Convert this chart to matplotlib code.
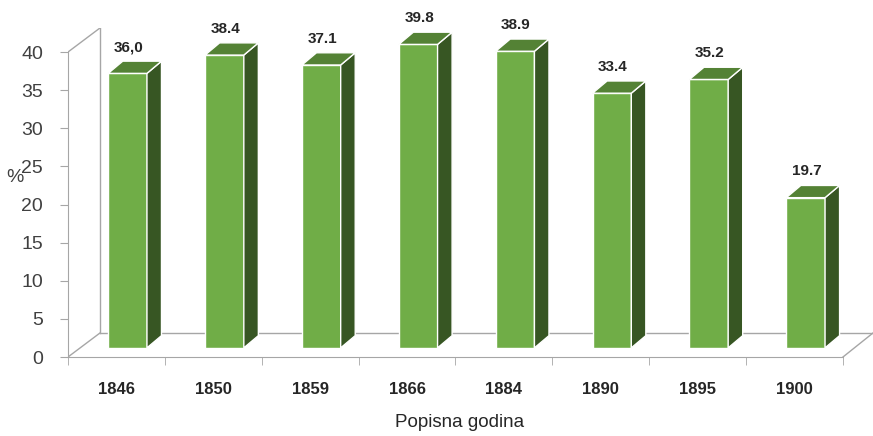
import matplotlib.pyplot as plt
from matplotlib.patches import Polygon

# Podaci
godine = ['1846', '1850', '1859', '1866', '1884', '1890', '1895', '1900']
vrijednosti = [36.0, 38.4, 37.1, 39.8, 38.9, 33.4, 35.2, 19.7]
oznake = ['36,0', '38.4', '37.1', '39.8', '38.9', '33.4', '35.2', '19.7']

# 3D izgled (u jedinicama podataka)
dubina_x, dubina_y = 0.33, 3.15      # dubina zida / poda
bar_x, bar_y = 0.15, 1.6             # dubina stupca
baza = 1.2                           # prednja strana stupca iznad poda
sirina = 0.40
pomak = 0.415

prednja = '#70AD47'
bocna = '#375623'
gornja = '#548235'
siva = '#A6A6A6'

fig = plt.figure(figsize=(8.73, 4.36), dpi=100)
ax = fig.add_axes([68 / 873, 79 / 436, 805 / 873, 329 / 436])
ax.set_xlim(0, 8.31)
ax.set_ylim(0, 43.15)

# zid i pod
n = len(godine)
ax.plot([0, dubina_x], [0, dubina_y], color=siva, lw=1, zorder=1)
ax.plot([0, dubina_x], [40, 40 + dubina_y], color=siva, lw=1, zorder=1)
ax.plot([dubina_x, dubina_x], [dubina_y, 40 + dubina_y], color=siva, lw=1, zorder=1)
ax.plot([dubina_x, n + dubina_x], [dubina_y, dubina_y], color=siva, lw=1, zorder=1)
ax.plot([n, n + dubina_x - 0.02], [0, dubina_y], color=siva, lw=1, zorder=1)

for i, v in enumerate(vrijednosti):
    x0 = i + pomak
    x1 = x0 + sirina
    top = baza + v
    ax.bar(x0, v, width=sirina, bottom=baza, align='edge', color=prednja,
           edgecolor='white', linewidth=1, zorder=3)
    ax.add_patch(Polygon([(x1, baza), (x1 + bar_x, baza + bar_y), (x1 + bar_x, top + bar_y), (x1, top)],
                         closed=True, facecolor=bocna, edgecolor='white', lw=1, zorder=3))
    ax.add_patch(Polygon([(x0, top), (x0 + bar_x, top + bar_y), (x1 + bar_x, top + bar_y), (x1, top)],
                         closed=True, facecolor=gornja, edgecolor='white', lw=1, zorder=3))
    ax.text(x0 + sirina / 2 + 0.01, top + bar_y + 1.85, oznake[i], ha='center', va='center',
            fontsize=11, fontweight='bold', color='#262626', family='Liberation Sans')

for s in ['top', 'right']:
    ax.spines[s].set_visible(False)
ax.spines['left'].set_bounds(0, 40)
ax.spines['bottom'].set_bounds(0, n)
ax.spines['left'].set_color(siva)
ax.spines['bottom'].set_color(siva)

ax.set_yticks(range(0, 41, 5))
ax.tick_params(axis='y', length=6, color=siva, labelsize=14, labelcolor='#404040', pad=12)
for t in ax.get_yticklabels():
    t.set_family('Liberation Sans')

ax.set_xticks([i + 0.5 for i in range(n)])
ax.set_xticklabels(godine, fontsize=12, fontweight='bold', family='Liberation Sans', color='#262626')
ax.set_xticks(range(n + 1), minor=True)
ax.tick_params(axis='x', which='major', length=0, pad=18)
ax.tick_params(axis='x', which='minor', length=6, color=siva)

fig.text(15 / 873, 1 - 178 / 436, '%', fontsize=14, ha='center', va='center',
         color='#404040', family='Liberation Sans')
fig.text(460 / 873, 1 - 422 / 436, 'Popisna godina', fontsize=13.5, ha='center', va='center',
         color='#262626', family='Liberation Sans')

fig.savefig('out.png', dpi=100)
